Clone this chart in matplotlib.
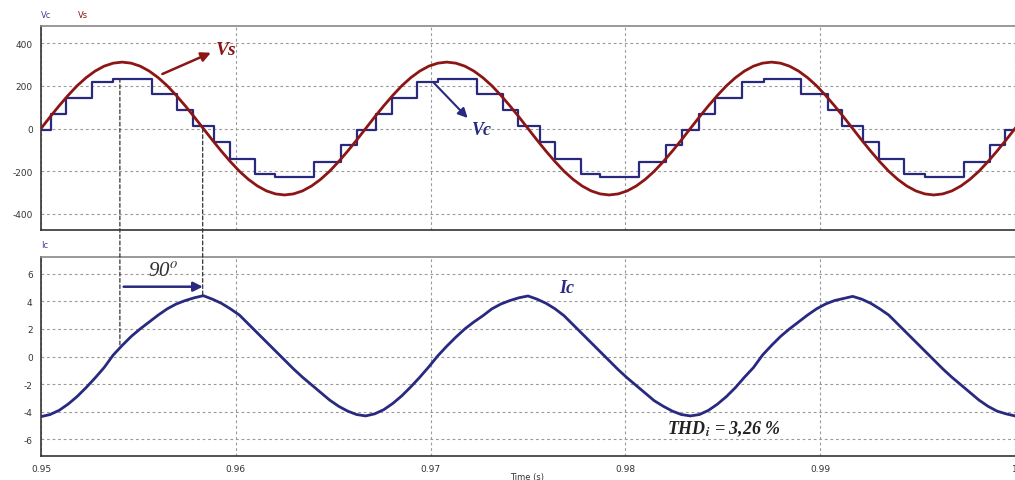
import numpy as np
import matplotlib
matplotlib.use('Agg')
import matplotlib.pyplot as plt
from matplotlib.patches import ConnectionPatch

plt.rcParams['axes.unicode_minus'] = False

# Vs - tensao da fonte, amostras a cada 10 graus (0.95 s a 1.0 s)
vs_valores = [0, 54, 106, 155, 200, 238, 269, 292, 306, 311, 306, 292, 269, 238, 200, 155, 106, 54,
              0, -54, -106, -155, -200, -238, -269, -292, -306, -311, -306, -292, -269, -238, -200, -155, -106, -54,
              0, 54, 106, 155, 200, 238, 269, 292, 306, 311, 306, 292, 269, 238, 200, 155, 106, 54,
              0, -54, -106, -155, -200, -238, -269, -292, -306, -311, -306, -292, -269, -238, -200, -155, -106, -54,
              0, 54, 106, 155, 200, 238, 269, 292, 306, 311, 306, 292, 269, 238, 200, 155, 106, 54,
              0, -54, -106, -155, -200, -238, -269, -292, -306, -311, -306, -292, -269, -238, -200, -155, -106, -54,
              0]

# Ic - corrente, mesmas amostras
ic_valores = [-4.35, -4.2, -3.9, -3.45, -2.9, -2.25, -1.55, -0.8, 0.1, 0.8, 1.45, 2.0, 2.5, 3.0, 3.45, 3.8, 4.05, 4.25,
              4.4, 4.15, 3.85, 3.45, 3.0, 2.35, 1.7, 1.05, 0.4, -0.25, -0.9, -1.5, -2.05, -2.6, -3.15, -3.6, -3.95, -4.2,
              -4.3, -4.15, -3.85, -3.4, -2.85, -2.2, -1.5, -0.75, 0.05, 0.75, 1.4, 2.0, 2.5, 2.95, 3.45, 3.8, 4.05, 4.25,
              4.38, 4.15, 3.85, 3.45, 2.95, 2.3, 1.65, 1.0, 0.35, -0.3, -0.95, -1.55, -2.1, -2.65, -3.2, -3.6, -3.95, -4.2,
              -4.3, -4.2, -3.9, -3.45, -2.9, -2.25, -1.5, -0.8, 0.1, 0.8, 1.45, 2.0, 2.5, 3.0, 3.45, 3.8, 4.05, 4.2,
              4.35, 4.15, 3.85, 3.45, 3.0, 2.35, 1.7, 1.05, 0.4, -0.25, -0.9, -1.5, -2.05, -2.6, -3.15, -3.6, -3.95, -4.15,
              -4.3]

# Vc - tensao do conversor (escada): instantes de mudanca e niveis
vc_tempos = [0.95,
             0.9505, 0.9513, 0.9526, 0.9537, 0.9557, 0.9570, 0.9578, 0.9589, 0.9597, 0.9610, 0.9620, 0.9640, 0.9654, 0.9662,
             0.9672, 0.9680, 0.9693, 0.9704, 0.9724, 0.9737, 0.9745, 0.9756, 0.9764, 0.9777, 0.9787, 0.9807, 0.9821, 0.9829,
             0.9838, 0.9846, 0.9860, 0.9871, 0.9890, 0.9904, 0.9911, 0.9922, 0.9930, 0.9943, 0.9954, 0.9974, 0.9987, 0.9995,
             1.0]
vc_niveis = [-8,
             66, 144, 217, 234, 160, 88, 11, -62, -141, -212, -228, -155, -79, -8,
             70, 144, 220, 234, 160, 88, 11, -62, -141, -212, -228, -155, -79, -5,
             70, 144, 220, 234, 160, 88, 11, -62, -141, -212, -228, -155, -79, -5,
             -5]

x_ticks = [0.95, 0.96, 0.97, 0.98, 0.99, 1.0]
x_labels = ['0.95', '0.96', '0.97', '0.98', '0.99', '1']
vs_ticks = [-400, -200, 0, 200, 400]
ic_ticks = [-6, -4, -2, 0, 2, 4, 6]

azul = '#28297f'
vermelho = '#8c1515'
cinza = '#9a9a9a'

tempo = np.linspace(0.95, 1.0, len(vs_valores))

fig = plt.figure(figsize=(10.15, 4.81), dpi=100)
W, H = 1015, 481
ax1 = fig.add_axes([41 / W, (H - 231) / H, 974 / W, 204 / H])
ax2 = fig.add_axes([41 / W, (H - 457) / H, 974 / W, 199 / H])

for ax in (ax1, ax2):
    ax.set_xlim(0.95, 1.0)
    ax.set_xticks(x_ticks)
    ax.grid(True, color=cinza, linestyle=(0, (2.5, 2.5)), linewidth=0.8)
    ax.tick_params(length=0, labelsize=6.5, colors='#333333', pad=6)
    ax.spines['right'].set_visible(False)
    ax.spines['top'].set_color('#888888')
    ax.spines['left'].set_color('#333333')
    ax.spines['bottom'].set_color('#333333')
    for s in ax.spines.values():
        s.set_linewidth(1.2)

ax1.step(vc_tempos, vc_niveis, where='post', color=azul, lw=1.6, zorder=3)
ax1.plot(tempo, vs_valores, color=vermelho, lw=2.0, zorder=4)
ax1.set_ylim(-475, 480)
ax1.set_yticks(vs_ticks)
ax1.set_xticklabels([])

ax2.plot(tempo, ic_valores, color=azul, lw=2.0, zorder=3)
ax2.set_ylim(-7.2, 7.2)
ax2.set_yticks(ic_ticks)
ax2.set_xticklabels(x_labels)

fig.text(41 / W, 1 - 16 / H, 'Vc', color='#4040a0', fontsize=6, va='center')
fig.text(78 / W, 1 - 16 / H, 'Vs', color=vermelho, fontsize=6, va='center')
fig.text(41 / W, 1 - 246 / H, 'Ic', color='#4040a0', fontsize=6, va='center')
fig.text(527 / W, 1 - 478 / H, 'Time (s)', color='#333333', fontsize=6, ha='center', va='center')

serif = 'Liberation Serif'
ax1.annotate('', xy=(0.95885, 360), xytext=(0.95610, 250),
             arrowprops=dict(arrowstyle='-|>', color=vermelho, lw=1.8, mutation_scale=14))
ax1.text(0.95900, 370, 'Vs', color=vermelho, fontsize=14, fontweight='bold', style='italic',
         family=serif, va='center')
ax1.annotate('', xy=(0.97200, 40), xytext=(0.97005, 225),
             arrowprops=dict(arrowstyle='-|>', color=azul, lw=1.5, mutation_scale=14))
ax1.text(0.97210, -5, 'Vc', color=azul, fontsize=13, fontweight='bold', style='italic',
         family=serif, va='center')

# linhas tracejadas de defasagem
for x0, y0, y1 in [(0.95405, 234, 0.8), (0.95830, 0, 4.4)]:
    con = ConnectionPatch(xyA=(x0, y0), coordsA=ax1.transData, xyB=(x0, y1), coordsB=ax2.transData,
                          color='#333333', lw=0.9, linestyle=(0, (3, 2)))
    fig.add_artist(con)

ax2.annotate('', xy=(0.95845, 5.05), xytext=(0.95410, 5.05),
             arrowprops=dict(arrowstyle='-|>', color=azul, lw=1.8, mutation_scale=14))
ax2.text(0.95625, 6.2, '90$^{\\mathit{o}}$', color='#333333', fontsize=15, style='italic',
         family=serif, ha='center', va='center', math_fontfamily='stix')
ax2.text(0.97700, 5.0, 'Ic', color=azul, fontsize=13, fontweight='bold', style='italic',
         family=serif, ha='center', va='center')
ax2.text(0.98215, -5.2, 'THD$_{\\mathbfit{i}}$ = 3,26 %', color='#222222', fontsize=13, fontweight='bold',
         style='italic', family=serif, va='center', math_fontfamily='stix')

fig.savefig('out.png', dpi=100)
